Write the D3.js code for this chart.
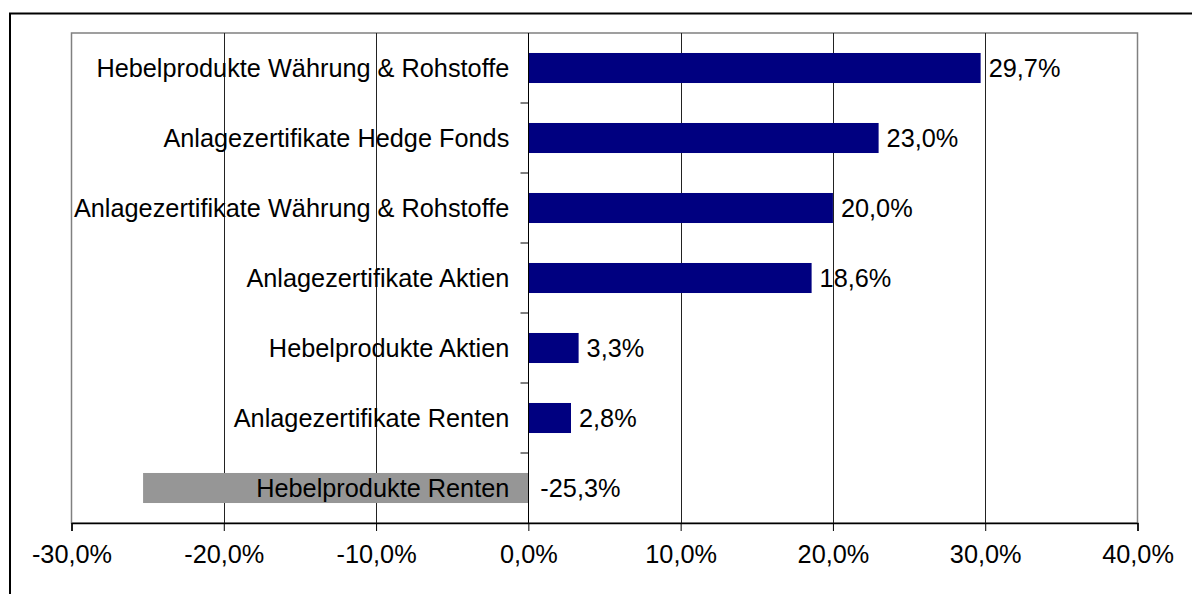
<!DOCTYPE html>
<html>
<head>
<meta charset="utf-8">
<script src="https://cdn.jsdelivr.net/npm/d3@7"></script>
<style>
  html, body { margin: 0; padding: 0; background: #fff; overflow: hidden; }
  svg { display: block; font-family: "Liberation Sans", Arial, sans-serif; }
</style>
</head>
<body>
<svg id="chart" width="1192" height="594"></svg>
<script>
const categories = [
  "Hebelprodukte Währung & Rohstoffe",
  "Anlagezertifikate Hedge Fonds",
  "Anlagezertifikate Währung & Rohstoffe",
  "Anlagezertifikate Aktien",
  "Hebelprodukte Aktien",
  "Anlagezertifikate Renten",
  "Hebelprodukte Renten"
];
const values = [29.7, 23.0, 20.0, 18.6, 3.3, 2.8, -25.3];
const xTicks = [-30, -20, -10, 0, 10, 20, 30, 40];

(function () {
const svg = d3.select("#chart");
const pLeft = 71.5, pRight = 1137.5, pTop = 33, pBottom = 523;
const fontSize = 25.3;

const loc = d3.formatLocale({decimal: ",", thousands: ".", grouping: [3], currency: ["", "€"], minus: "-"});
const fmt = v => loc.format(".1f")(v) + "%";

const x = d3.scaleLinear().domain([-30, 40]).range([pLeft, pRight]);
const y = d3.scaleBand().domain(categories).range([pTop, pBottom])
  .paddingInner(0.571).paddingOuter(0.2855);
const step = y.step();

// outer border (extends beyond the visible area)
svg.append("rect")
  .attr("x", 10).attr("y", 13.5)
  .attr("width", 1300).attr("height", 700)
  .attr("fill", "none").attr("stroke", "#000").attr("stroke-width", 2);

// plot area frame
svg.append("rect")
  .attr("x", pLeft).attr("y", pTop)
  .attr("width", pRight - pLeft).attr("height", pBottom - pTop)
  .attr("fill", "#fff").attr("stroke", "#808080").attr("stroke-width", 1.5);

// vertical gridlines
svg.append("g").selectAll("line")
  .data(xTicks.filter(t => t > -30 && t < 40 && t !== 0))
  .join("line")
  .attr("x1", d => Math.round(x(d)) + 0.5).attr("x2", d => Math.round(x(d)) + 0.5)
  .attr("y1", pTop).attr("y2", pBottom)
  .attr("stroke", "#222").attr("stroke-width", 1);

// bars
svg.append("g").selectAll("rect")
  .data(categories.map((c, i) => ({c, v: values[i]})))
  .join("rect")
  .attr("x", d => x(Math.min(0, d.v)))
  .attr("width", d => Math.abs(x(d.v) - x(0)))
  .attr("y", d => y(d.c))
  .attr("height", y.bandwidth())
  .attr("fill", d => d.v < 0 ? "#969696" : "#000080");

// zero line
const x0 = Math.round(x(0)) + 0.5;
svg.append("line")
  .attr("x1", x0).attr("x2", x0).attr("y1", pTop).attr("y2", pBottom)
  .attr("stroke", "#000").attr("stroke-width", 1);

// category ticks on the zero line (band boundaries)
svg.append("g").selectAll("line")
  .data(d3.range(1, categories.length))
  .join("line")
  .attr("x1", x0 - 8).attr("x2", x0)
  .attr("y1", i => pTop + i * step).attr("y2", i => pTop + i * step)
  .attr("stroke", "#000").attr("stroke-width", 1);

// category labels
svg.append("g").selectAll("text")
  .data(categories)
  .join("text")
  .attr("x", x(0) - 19)
  .attr("y", d => y(d) + y.bandwidth() / 2)
  .attr("dy", "0.35em")
  .attr("text-anchor", "end")
  .attr("font-size", fontSize)
  .attr("fill", "#000")
  .text(d => d);

// value labels
svg.append("g").selectAll("text")
  .data(categories.map((c, i) => ({c, v: values[i]})))
  .join("text")
  .attr("x", d => d.v < 0 ? x(0) + 12 : x(d.v) + 8)
  .attr("y", d => y(d.c) + y.bandwidth() / 2)
  .attr("dy", "0.35em")
  .attr("font-size", fontSize)
  .attr("fill", "#000")
  .text(d => fmt(d.v));

// x axis
const axis = svg.append("g").attr("transform", `translate(0,${pBottom})`)
  .call(d3.axisBottom(x).tickValues(xTicks).tickSize(8).tickPadding(14).tickFormat(fmt));
axis.select(".domain").attr("stroke", "#000").attr("stroke-width", 1.5);
axis.selectAll(".tick line").attr("stroke", "#000");
axis.selectAll(".tick text")
  .attr("font-size", fontSize)
  .attr("font-family", "'Liberation Sans', Arial, sans-serif")
  .attr("fill", "#000");
})();
</script>
</body>
</html>
